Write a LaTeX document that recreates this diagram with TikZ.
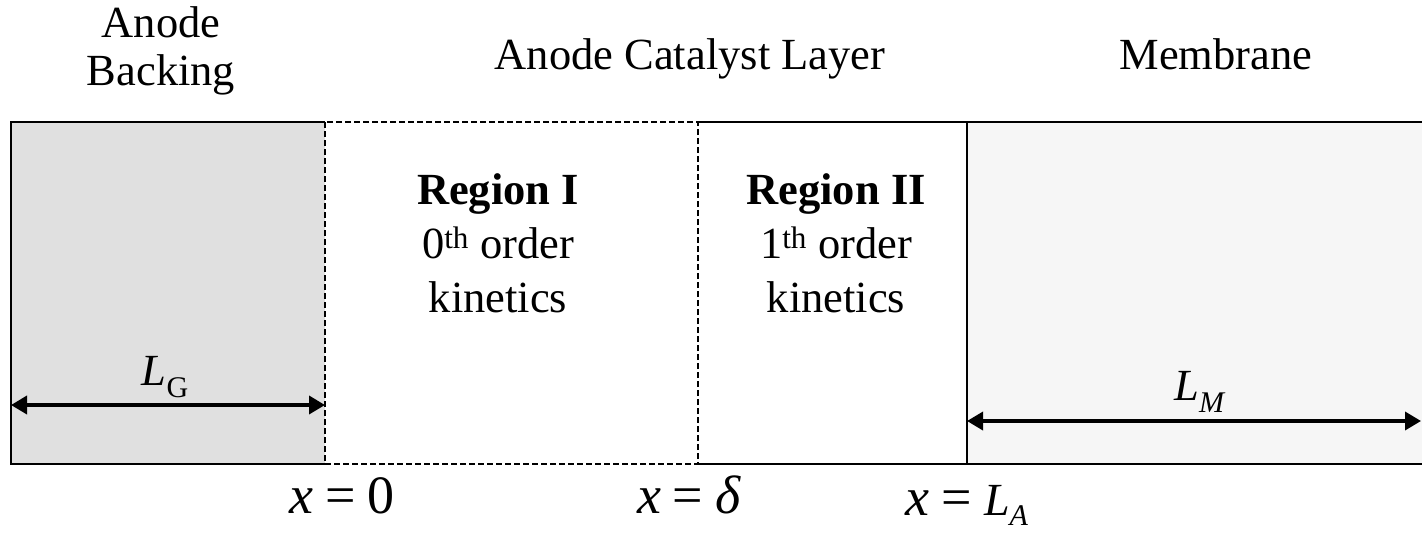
\documentclass[tikz,border=0pt]{standalone}
\usepackage{fontspec}
\setmainfont{Liberation Serif}
\usetikzlibrary{arrows.meta}
\newcommand\txtsize{\fontsize{44.5}{53}\selectfont}
\newcommand\eqsize{\fontsize{54}{60}\selectfont}
\newcommand\mysub[1]{\raisebox{-0.28em}{\fontsize{30}{30}\selectfont #1}}
\newcommand\eqsp{\hspace{0.22em}}
\begin{document}
\begin{tikzpicture}[x=1pt,y=-1pt,
  edge/.style={draw=black,line width=2.5pt},
  dashedge/.style={draw=black,line width=2.5pt,dash pattern=on 6pt off 3pt},
  dim/.style={draw=black,line width=3.5pt,{Triangle[length=16pt,width=18pt]}-{Triangle[length=16pt,width=18pt]}},
  lbl/.style={anchor=base,inner sep=0pt,font=\txtsize},
  eq/.style={anchor=base,inner sep=0pt,font=\eqsize}]
\useasboundingbox (0,0) rectangle (1422,533);
% fills
\fill[fill={rgb,255:red,224;green,224;blue,224}] (11,122) rectangle (325,464);
\fill[fill={rgb,255:red,246;green,246;blue,246}] (967,122) rectangle (1422,464);
% outlines
\draw[edge] (325,122) -- (11,122) -- (11,464) -- (325,464);
\draw[edge] (698,122) -- (1422,122);
\draw[edge] (698,464) -- (1422,464);
\draw[edge] (967,122) -- (967,464);
\draw[dashedge] (325,122) rectangle (698,464);
% dimension arrows
\coordinate (g0) at (11,405);
\coordinate (g1) at (325,405);
\coordinate (m0) at (967,421);
\coordinate (m1) at (1421,421);
\draw[dim] (g0) -- (g1);
\draw[dim] (m0) -- (m1);
% top labels
\node[lbl] (ab1) at (161,37) {Anode};
\node[lbl] (ab2) at (161,85) {Backing};
\node[lbl] (acl) at (690,69) {Anode Catalyst Layer};
\node[lbl] (mem) at (1216,69) {Membrane};
% region labels
\node[lbl] (r1a) at (498,204) {\bfseries Region I};
\node[lbl] (r1b) at (498,258) {0\textsuperscript{th} order};
\node[lbl] (r1c) at (498,312) {kinetics};
\node[lbl] (r2a) at (836,204) {\bfseries Region II};
\node[lbl] (r2b) at (836,258) {1\textsuperscript{th} order};
\node[lbl] (r2c) at (836,312) {kinetics};
% dimension labels
\node[lbl] (lg) at (165,385) {\textit{L}\mysub{G}};
\node[lbl] (lm) at (1200,400) {\textit{L}\mysub{\textit{M}}};
% position labels
\node[eq] (x0) at (342,513) {\textit{x}\eqsp=\eqsp0};
\node[eq] (xd) at (689,513) {\textit{x}\eqsp=\eqsp\textit{δ}};
\node[eq] (xl) at (967,515) {\textit{x}\eqsp=\eqsp{\fontsize{46}{50}\selectfont\textit{L}}\raisebox{-0.2em}{\fontsize{30}{30}\selectfont\textit{A}}};
\end{tikzpicture}
\end{document}
